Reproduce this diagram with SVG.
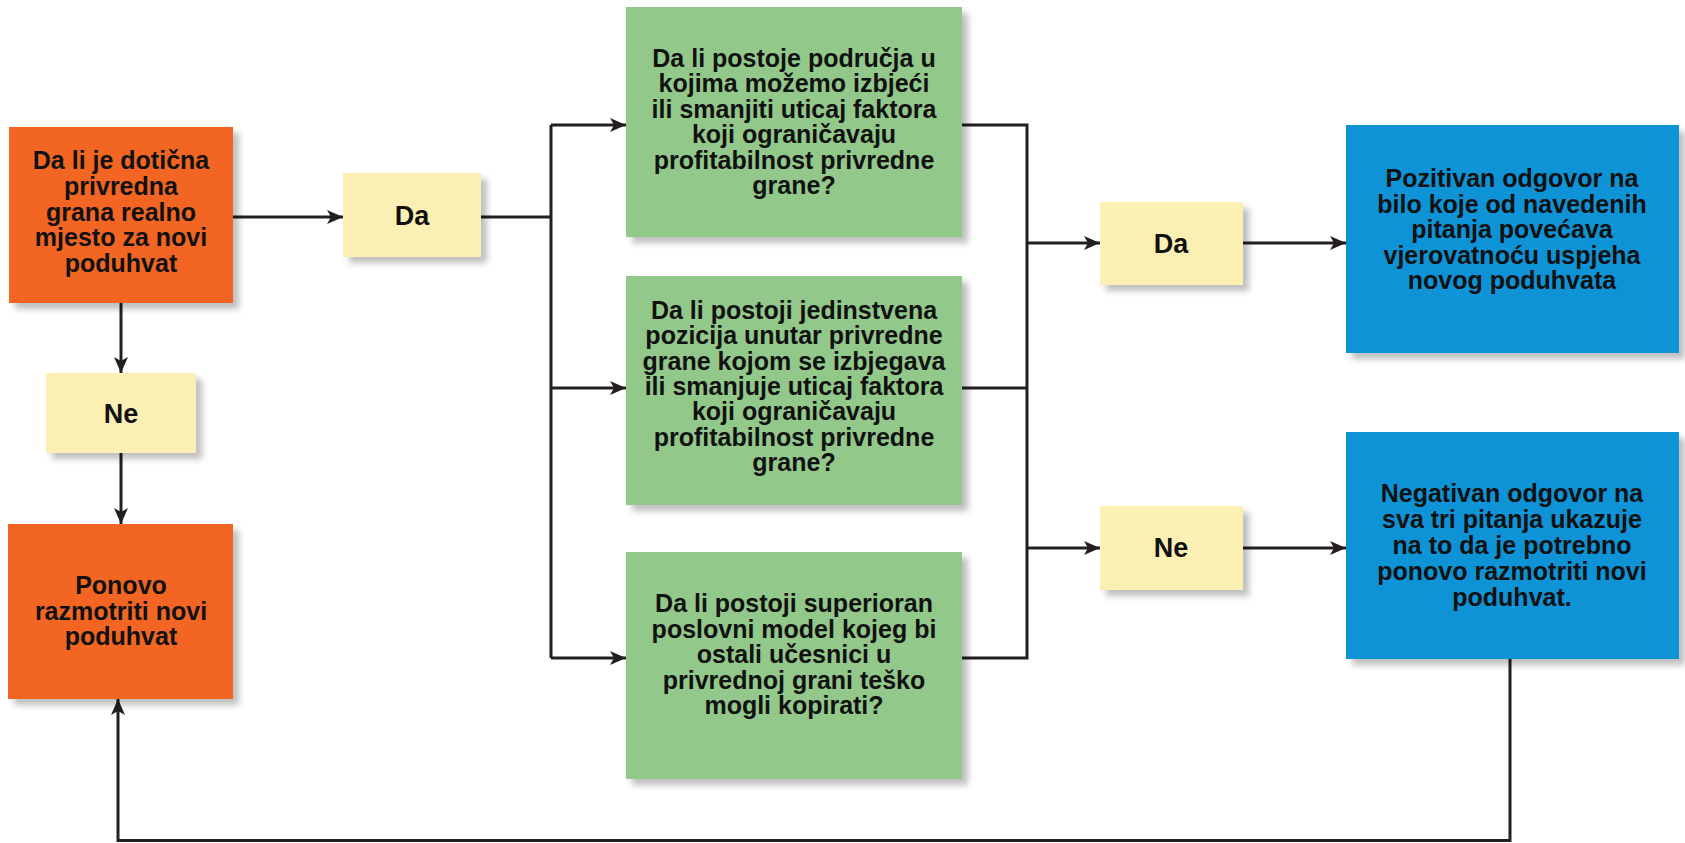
<svg xmlns="http://www.w3.org/2000/svg" width="1685" height="843" viewBox="0 0 1685 843">
<defs>
<filter id="sh" x="-10%" y="-10%" width="125%" height="125%">
<feDropShadow dx="6" dy="6" stdDeviation="3" flood-color="#000" flood-opacity="0.25"/>
</filter>
<marker id="ar" markerUnits="userSpaceOnUse" markerWidth="18" markerHeight="16" refX="16" refY="7" orient="auto">
<path d="M0,0 L16,7 L0,14 L4,7 z" fill="#231F20"/>
</marker>
</defs>
<style>
.orange{fill:#F26522;filter:url(#sh)}
.yellow{fill:#FCEFB4;filter:url(#sh)}
.green{fill:#93C88B;filter:url(#sh)}
.blue{fill:#0993D6;filter:url(#sh)}
text{font-family:"Liberation Sans",Arial,sans-serif;font-weight:bold;font-size:25px;fill:#111;text-anchor:middle}
.lbl{font-size:27px}
.ln{fill:none;stroke:#231F20;stroke-width:3}
</style>
<rect width="1685" height="843" fill="#fff"/>
<g id="connectors">
<path class="ln" d="M233,217 L343,217" marker-end="url(#ar)"/>
<path class="ln" d="M481,217 L551,217"/>
<path class="ln" d="M551,125 L551,658"/>
<path class="ln" d="M551,125 L626,125" marker-end="url(#ar)"/>
<path class="ln" d="M551,388 L626,388" marker-end="url(#ar)"/>
<path class="ln" d="M551,658 L626,658" marker-end="url(#ar)"/>
<path class="ln" d="M121,303 L121,373" marker-end="url(#ar)"/>
<path class="ln" d="M121,453 L121,524" marker-end="url(#ar)"/>
<path class="ln" d="M962,125 L1027,125 L1027,658 L962,658"/>
<path class="ln" d="M962,388 L1027,388"/>
<path class="ln" d="M1027,243 L1100,243" marker-end="url(#ar)"/>
<path class="ln" d="M1027,548 L1100,548" marker-end="url(#ar)"/>
<path class="ln" d="M1243,243 L1346,243" marker-end="url(#ar)"/>
<path class="ln" d="M1243,548 L1346,548" marker-end="url(#ar)"/>
<path class="ln" d="M1510,659 L1510,840.5 L118,840.5 L118,699" marker-end="url(#ar)"/>
</g>
<g id="n-q1">
<rect class="orange" x="9" y="127" width="224" height="176"/>
<text><tspan x="121" y="169">Da li je dotična</tspan><tspan x="121" dy="25.8">privredna</tspan><tspan x="121" dy="25.8">grana realno</tspan><tspan x="121" dy="25.8">mjesto za novi</tspan><tspan x="121" dy="25.8">poduhvat</tspan></text>
</g>
<g id="n-da1">
<rect class="yellow" x="343" y="173" width="138" height="84"/>
<text class="lbl" x="412" y="225">Da</text>
</g>
<g id="n-ne1">
<rect class="yellow" x="46" y="373" width="150" height="80"/>
<text class="lbl" x="121" y="423">Ne</text>
</g>
<g id="n-reconsider">
<rect class="orange" x="8" y="524" width="225" height="175"/>
<text><tspan x="121" y="594">Ponovo</tspan><tspan x="121" dy="25.5">razmotriti novi</tspan><tspan x="121" dy="25.5">poduhvat</tspan></text>
</g>
<g id="n-g1">
<rect class="green" x="626" y="7" width="336" height="230"/>
<text><tspan x="794" y="67">Da li postoje područja u</tspan><tspan x="794" dy="25.4">kojima možemo izbjeći</tspan><tspan x="794" dy="25.4">ili smanjiti uticaj faktora</tspan><tspan x="794" dy="25.4">koji ograničavaju</tspan><tspan x="794" dy="25.4">profitabilnost privredne</tspan><tspan x="794" dy="25.4">grane?</tspan></text>
</g>
<g id="n-g2">
<rect class="green" x="626" y="276" width="336" height="229"/>
<text><tspan x="794" y="319">Da li postoji jedinstvena</tspan><tspan x="794" dy="25.3">pozicija unutar privredne</tspan><tspan x="794" dy="25.3">grane kojom se izbjegava</tspan><tspan x="794" dy="25.3">ili smanjuje uticaj faktora</tspan><tspan x="794" dy="25.3">koji ograničavaju</tspan><tspan x="794" dy="25.3">profitabilnost privredne</tspan><tspan x="794" dy="25.3">grane?</tspan></text>
</g>
<g id="n-g3">
<rect class="green" x="626" y="552" width="336" height="227"/>
<text><tspan x="794" y="612">Da li postoji superioran</tspan><tspan x="794" dy="25.5">poslovni model kojeg bi</tspan><tspan x="794" dy="25.5">ostali učesnici u</tspan><tspan x="794" dy="25.5">privrednoj grani teško</tspan><tspan x="794" dy="25.5">mogli kopirati?</tspan></text>
</g>
<g id="n-da2">
<rect class="yellow" x="1100" y="202" width="143" height="83"/>
<text class="lbl" x="1171" y="253">Da</text>
</g>
<g id="n-ne2">
<rect class="yellow" x="1100" y="506" width="143" height="84"/>
<text class="lbl" x="1171" y="557">Ne</text>
</g>
<g id="n-pos">
<rect class="blue" x="1346" y="125" width="333" height="228"/>
<text><tspan x="1512" y="187">Pozitivan odgovor na</tspan><tspan x="1512" dy="25.5">bilo koje od navedenih</tspan><tspan x="1512" dy="25.5">pitanja povećava</tspan><tspan x="1512" dy="25.5">vjerovatnoću uspjeha</tspan><tspan x="1512" dy="25.5">novog poduhvata</tspan></text>
</g>
<g id="n-neg">
<rect class="blue" x="1346" y="432" width="333" height="227"/>
<text><tspan x="1512" y="502">Negativan odgovor na</tspan><tspan x="1512" dy="26">sva tri pitanja ukazuje</tspan><tspan x="1512" dy="26">na to da je potrebno</tspan><tspan x="1512" dy="26">ponovo razmotriti novi</tspan><tspan x="1512" dy="26">poduhvat.</tspan></text>
</g>
</svg>
